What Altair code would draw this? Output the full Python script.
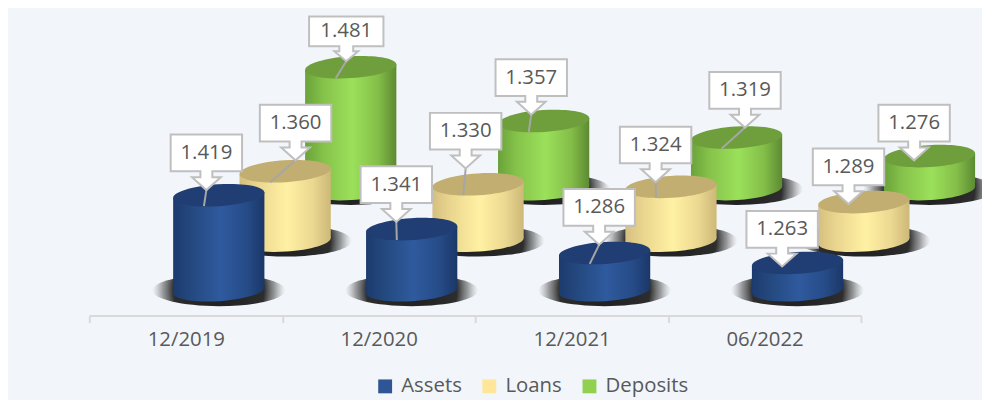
import altair as alt
import pandas as pd

categories = ["12/2019", "12/2020", "12/2021", "06/2022"]
series_names = ["Assets", "Loans", "Deposits"]
assets = [1.419, 1.341, 1.286, 1.263]
loans = [1.360, 1.330, 1.324, 1.289]
deposits = [1.481, 1.357, 1.319, 1.276]
y_ticks = [1.2, 1.3, 1.4, 1.5, 1.6]

FONT = "Open Sans"
TXT = "#595959"
PLOT_W, PLOT_H = 778, 175
PX_X = PLOT_W / 4
PX_Y = PLOT_H / 0.4
HALF = 46
TILT = 3

style = {
    "Assets": dict(xoff=0.671, lift=25.5, top="#203E73", legend="#2F5597",
                   stops=["#1C3A6E", "#24497F", "#2F5A9E", "#264C88", "#1B3768"]),
    "Loans": dict(xoff=1.015, lift=75.5, top="#C2AE70", legend="#FFE699",
                  stops=["#D5BF80", "#EAD68F", "#FFF1A3", "#EBD891", "#CDB878"]),
    "Deposits": dict(xoff=1.355, lift=127.5, top="#6E9F3C", legend="#92D050",
                     stops=["#6AA23A", "#85C24A", "#9BE05A", "#84BE49", "#5C8A32"]),
}
# callout tip position relative to the centre of the cylinder top, in pixels
tip_offsets = {
    "Assets": [(-12.5, -5.2), (-15.5, -7.3), (-5.5, -8.4), (-15.5, 3.6)],
    "Loans": [(10.5, -11), (-12.5, -16), (-15.5, -4.75), (-15.5, 2)],
    "Deposits": [(-4.5, -6), (-12.5, -6.3), (8.5, -10), (-15.5, 4.25)],
}
values = {"Assets": assets, "Loans": loans, "Deposits": deposits}

rows, side_rows = [], []
for s in series_names:
    st = style[s]
    for i, v in enumerate(values[s]):
        lift = st["lift"] / PX_Y
        cx = i + st["xoff"]
        base, top = 1.2 + lift, v + lift
        dx, dy = tip_offsets[s][i]
        rows.append(dict(
            series=s, cat=categories[i], x=cx, base=base, top=top,
            shadow_y=base, label=f"{v:.3f}",
            tip_x=cx + dx / PX_X, tip_y=top - dy / PX_Y,
            end_x=cx - 15 / PX_X, end_y=top - 11 / PX_Y,
            leader=dy < 0, short=(v == max(deposits)),
        ))
        for sign in (-1, 1):
            side_rows.append(dict(
                series=s, cat=categories[i], x=cx + sign * HALF / PX_X,
                y1=top + sign * TILT / PX_Y, y0=base + sign * TILT / PX_Y,
            ))
df = pd.DataFrame(rows)
side = pd.DataFrame(side_rows)

x_scale = alt.Scale(domain=[0, 4], nice=False, zero=False)
y_scale = alt.Scale(domain=[1.2, 1.6], nice=False, zero=False)
X = lambda f: alt.X(f"{f}:Q", scale=x_scale, axis=None)
Y = lambda f: alt.Y(f"{f}:Q", scale=y_scale, axis=None)

ELLIPSE = ("M -46 3 A 46 11 -3.7 1 1 46 -3 A 46 11 -3.7 1 1 -46 3 Z")
SHADOW = "M -67 0 A 67 16 0 1 1 67 0 A 67 16 0 1 1 -67 0 Z"
BOX_TALL = ("M -36 -56 L 36 -56 L 36 -19 L 6 -19 L 6 -13 L 14.5 -13 L 0 0 "
            "L -14.5 -13 L -6 -13 L -6 -19 L -36 -19 Z")
BOX_SHORT = ("M -37.5 -45 L 37.5 -45 L 37.5 -15 L 7 -15 L 7 -10 L 12 -10 L 0 0 "
             "L -12 -10 L -7 -10 L -7 -15 L -37.5 -15 Z")


def grad(stops):
    off = [0, 0.2, 0.52, 0.8, 1]
    return {"gradient": "linear", "x1": 0, "y1": 0, "x2": 1, "y2": 0,
            "stops": [{"offset": o, "color": c} for o, c in zip(off, stops)]}


shadow_fill = {
    "gradient": "radial", "x1": 0.5, "y1": 0.5, "r1": 0, "x2": 0.5, "y2": 0.5, "r2": 0.5,
    "stops": [
        {"offset": 0, "color": "rgba(30,30,30,1)"},
        {"offset": 0.68, "color": "rgba(45,45,45,1)"},
        {"offset": 0.84, "color": "rgba(90,90,90,0.6)"},
        {"offset": 1, "color": "rgba(140,140,140,0)"},
    ],
}


def sym(shape, **kw):
    return alt.Chart(df).mark_point(shape=shape, size=4, filled=True, opacity=1, **kw)


layers = []

# axis layer: band scale with ticks on the band edges, labels in the middle
axis_layer = alt.Chart(pd.DataFrame({"cat": categories})).mark_point(opacity=0).encode(
    x=alt.X("cat:N", sort=categories, title=None, scale=alt.Scale(paddingInner=0, paddingOuter=0),
            axis=alt.Axis(tickBand="extent", domainColor="#D9D9D9", domainWidth=2,
                          tickColor="#D9D9D9", tickWidth=2, tickSize=7, labelAngle=0,
                          labelFont=FONT, labelFontSize=20.5, labelColor=TXT, labelPadding=7,
                          grid=False)),
    y=alt.Y("v:Q", scale=y_scale, title=None,
            axis=alt.Axis(values=y_ticks, format=".3f", domain=False, ticks=False, grid=False,
                          labelFont=FONT, labelFontSize=20.5, labelColor=TXT, labelPadding=23)),
).transform_calculate(v="1.2")
layers.append(axis_layer)

legend_layer = alt.Chart(pd.DataFrame({"series": series_names})).mark_square(opacity=0).encode(
    color=alt.Color("series:N", sort=series_names,
                    scale=alt.Scale(domain=series_names,
                                    range=[style[s]["legend"] for s in series_names]),
                    legend=alt.Legend(orient="none", legendX=288, legendY=236, direction="horizontal",
                                      title=None, symbolType="square", symbolSize=196,
                                      symbolOpacity=1, symbolStrokeWidth=0, labelFont=FONT,
                                      labelFontSize=20.5, labelColor=TXT, columnPadding=17,
                                      labelOffset=6)),
)
layers.append(legend_layer)

for s in reversed(series_names):
    st = style[s]
    f = alt.datum.series == s
    layers.append(sym(SHADOW, fill=shadow_fill, strokeWidth=0).transform_filter(f)
                  .encode(x=X("x"), y=Y("shadow_y")))
    layers.append(sym(ELLIPSE, fill=grad(st["stops"]), strokeWidth=0).transform_filter(f)
                  .encode(x=X("x"), y=Y("base")))
    layers.append(alt.Chart(side).mark_area(fill=grad(st["stops"]), opacity=1, line=False)
                  .transform_filter(f)
                  .encode(x=X("x"), y=Y("y1"), y2=alt.Y2("y0:Q"), detail="cat:N"))
    layers.append(sym(ELLIPSE, fill=st["top"], strokeWidth=0).transform_filter(f)
                  .encode(x=X("x"), y=Y("top")))

# leaders and callouts sit above all cylinders
layers.append(alt.Chart(df).transform_filter("datum.leader")
              .mark_rule(color="#A6A6A6", strokeWidth=2)
              .encode(x=X("tip_x"), y=Y("tip_y"), x2=alt.X2("end_x:Q"), y2=alt.Y2("end_y:Q")))
for shape, cond, dy in [(BOX_TALL, "!datum.short", -37.5), (BOX_SHORT, "datum.short", -30)]:
    layers.append(sym(shape, fill="white", stroke="#BFBFBF", strokeWidth=2).transform_filter(cond)
                  .encode(x=X("tip_x"), y=Y("tip_y")))
    layers.append(alt.Chart(df).transform_filter(cond)
                  .mark_text(font=FONT, fontSize=20.5, color=TXT, align="center", baseline="middle", dy=dy)
                  .encode(x=X("tip_x"), y=Y("tip_y"), text="label:N"))

chart = (
    alt.layer(*layers)
    .resolve_scale(x="independent")
    .properties(
        width=PLOT_W, height=PLOT_H, background="#F2F6FB",
        padding={"left": 82, "top": 133.5, "right": 122, "bottom": 83.5},
        autosize="none",
    )
    .configure_view(stroke=None)
)
chart.save("out.html", embed_options={"renderer": "svg", "actions": False})
